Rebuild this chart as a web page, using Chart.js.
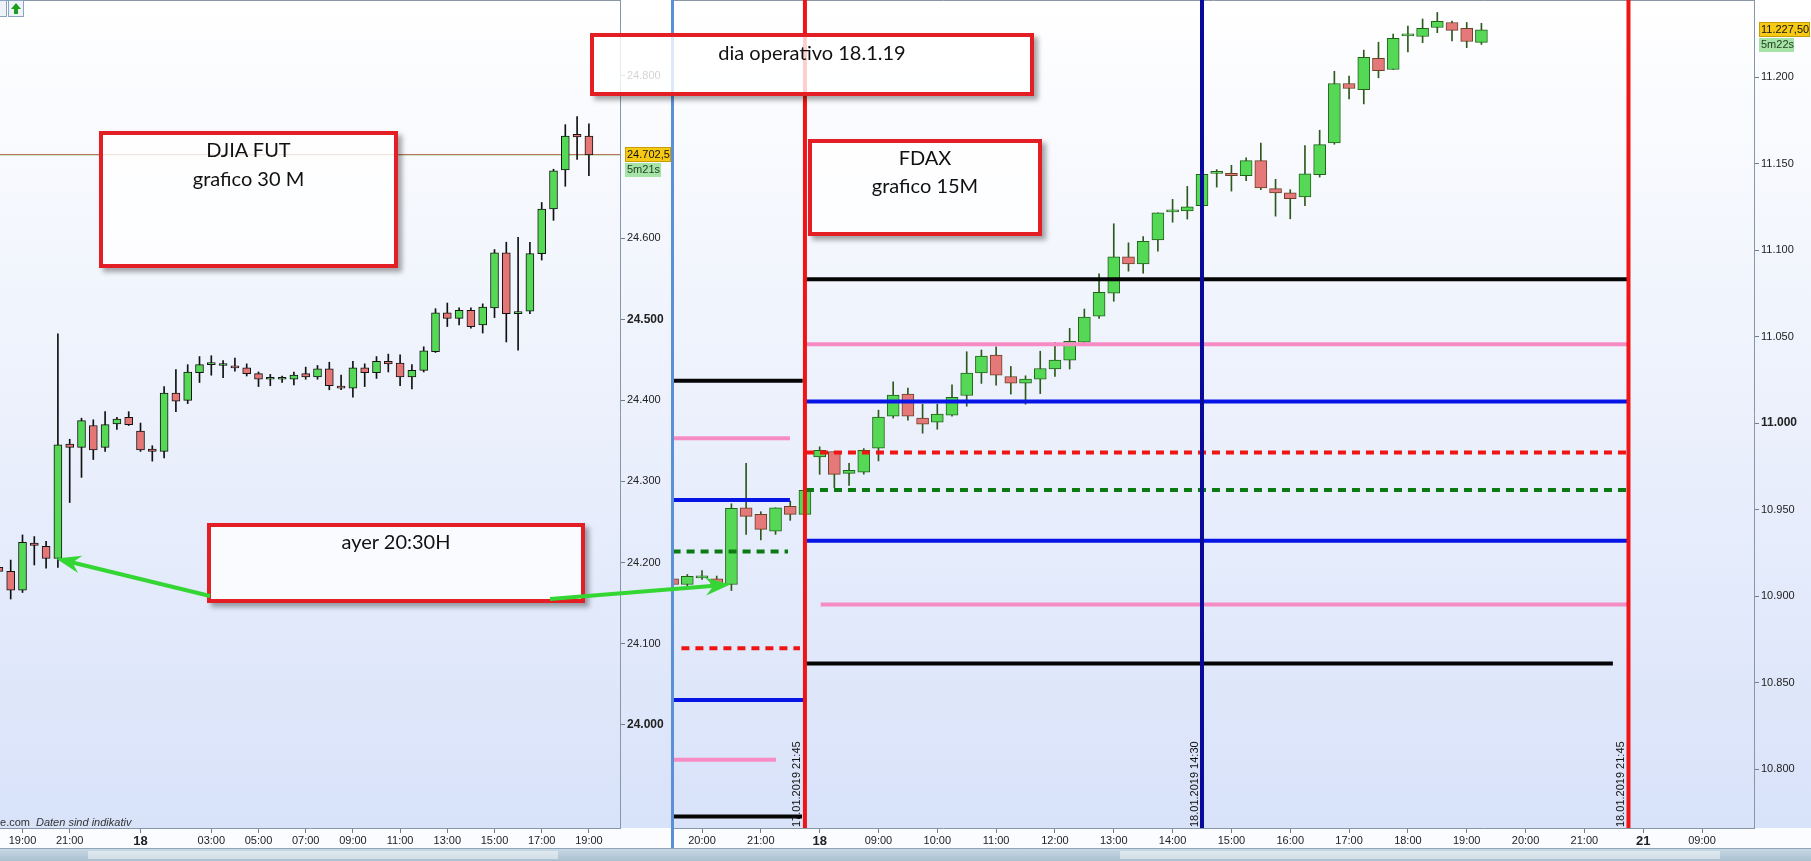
<!DOCTYPE html>
<html>
<head>
<meta charset="utf-8">
<script src="https://cdn.jsdelivr.net/npm/chart.js@4.4.1/dist/chart.umd.min.js"></script>
<style>
html, body { margin: 0; padding: 0; background: #fff; overflow: hidden; }
#wrap { position: relative; width: 1811px; height: 861px; }
#djChart { position: absolute; left: 0; top: 0; }
#fdChart { position: absolute; left: 673px; top: 0; }
.sep { position: absolute; left: 671px; top: 0; width: 3px; height: 861px; background: #5b8fd8; }
.toolbar { position: absolute; left: 0; top: 848px; width: 1811px; height: 13px; box-sizing: border-box;
  background: linear-gradient(#c8d8e4, #a9c1d1); border-top: 1px solid #8ea6b8; }
.note { position: absolute; box-sizing: border-box; border: 4px solid #e31e24; background: rgba(255,255,255,0.8);
  box-shadow: 4px 4px 5px rgba(0,0,0,0.35); font-family: Lato, 'Open Sans', sans-serif; font-size: 20px;
  line-height: 29px; color: #111; text-align: center; }
#overlay { position: absolute; left: 0; top: 0; pointer-events: none; }
</style>
</head>
<body>
<div id="wrap">
  <canvas id="djChart" width="672" height="848"></canvas>
  <canvas id="fdChart" width="1138" height="848"></canvas>
  <div class="sep"></div>
  <div class="toolbar"></div>
  <div class="note" style="left:99px;top:131px;width:299px;height:137px">DJIA FUT<br>grafico 30 M</div>
  <div class="note" style="left:590px;top:33px;width:444px;height:63px;padding-top:1px">dia operativo 18.1.19</div>
  <div class="note" style="left:808px;top:139px;width:234px;height:97px;line-height:28px">FDAX<br>grafico 15M</div>
  <div class="note" style="left:207px;top:523px;width:378px;height:80px">ayer 20:30H</div>
  <canvas id="overlay" width="1811" height="861"></canvas>
</div>
<script>
const FONT = "'Liberation Sans', Arial, sans-serif";

// DJIA futures, 30 min candles, 17.01 18:00 -> 18.01 19:00
const djOpen  = [24194, 24189, 24166, 24224, 24220, 24205, 24346, 24342, 24369, 24342, 24371, 24379, 24362, 24340, 24337, 24409, 24400, 24434, 24444, 24443, 24442, 24440, 24433, 24426, 24426, 24426, 24433, 24429, 24439, 24417, 24415, 24440, 24434, 24448, 24446, 24429, 24437, 24460, 24508, 24501, 24511, 24493, 24514, 24582, 24507, 24510, 24581, 24636, 24684, 24728, 24726];
const djHigh  = [24199, 24203, 24234, 24232, 24226, 24482, 24352, 24378, 24376, 24386, 24379, 24386, 24372, 24344, 24417, 24438, 24444, 24454, 24455, 24449, 24452, 24445, 24435, 24432, 24430, 24435, 24441, 24443, 24447, 24431, 24448, 24445, 24454, 24457, 24456, 24444, 24466, 24513, 24520, 24514, 24514, 24519, 24586, 24595, 24601, 24595, 24644, 24685, 24740, 24750, 24741];
const djLow   = [24186, 24155, 24163, 24197, 24193, 24194, 24274, 24305, 24327, 24337, 24364, 24369, 24337, 24325, 24329, 24386, 24396, 24422, 24431, 24428, 24436, 24430, 24417, 24418, 24422, 24419, 24426, 24426, 24413, 24413, 24404, 24417, 24427, 24435, 24418, 24414, 24435, 24459, 24491, 24493, 24489, 24483, 24502, 24472, 24462, 24507, 24573, 24622, 24664, 24697, 24677];
const djClose = [24189, 24166, 24225, 24221, 24205, 24345, 24342, 24375, 24339, 24370, 24377, 24370, 24339, 24337, 24409, 24399, 24435, 24444, 24444, 24443, 24440, 24433, 24426, 24426, 24426, 24431, 24429, 24439, 24418, 24415, 24440, 24434, 24448, 24445, 24429, 24437, 24461, 24508, 24501, 24511, 24491, 24515, 24582, 24507, 24509, 24581, 24636, 24683, 24726, 24725, 24702.5];
const djTickPos    = [2, 6, 12, 18, 22, 26, 30, 34, 38, 42, 46, 50];
const djTickLabels = ['19:00', '21:00', '18', '03:00', '05:00', '07:00', '09:00', '11:00', '13:00', '15:00', '17:00', '19:00'];
const djPriceTicks = [24000, 24100, 24200, 24300, 24400, 24500, 24600, 24800];
const djBoldTicks  = [24000, 24500];

// FDAX, 15 min candles, 17.01 19:30 -> 21:45, then 18.01 08:00 -> 19:15
const fdOpen  = [10910, 10906.7, 10910.5, 10910, 10906.7, 10951.1, 10947.3, 10937.6, 10951.9, 10947.3, 10980.5, 10983.6, 10971, 10971.6, 10985.5, 11004, 11016.8, 11002.9, 11000.6, 11004.6, 11016, 11029, 11039.4, 11027, 11023.2, 11025.5, 11031.3, 11036.5, 11046.8, 11061.8, 11075.1, 11096.2, 11092.1, 11106, 11122.2, 11122.8, 11125.7, 11144.4, 11144.4, 11143.1, 11151.8, 11135.6, 11133.2, 11130.9, 11143.7, 11162, 11196.4, 11192.9, 11210.9, 11204.5, 11224, 11223.6, 11228.8, 11231.7, 11228.3, 11220.2];
const fdHigh  = [10911.5, 10912.5, 10914.8, 10911.6, 10953.4, 10976.8, 10948.8, 10951.1, 10955, 10962.7, 10986.3, 10983.6, 10976.8, 10985.3, 11007.5, 11023.9, 11020.3, 11011, 11011, 11022.2, 11041.3, 11042.3, 11044.2, 11032.8, 11027.4, 11041.6, 11046.8, 11054.8, 11066, 11086.3, 11115.3, 11104.3, 11107.9, 11121.6, 11129.4, 11136.9, 11144.5, 11146.6, 11149.1, 11153.5, 11162, 11141, 11135, 11160.5, 11169.4, 11203.5, 11200.7, 11215.7, 11220.3, 11225, 11229.6, 11233.7, 11237.5, 11232.5, 11231.7, 11231.2];
const fdLow   = [10905.5, 10906, 10909.6, 10905.5, 10903.2, 10935.7, 10932.5, 10935.7, 10943.8, 10947.3, 10970.4, 10962.7, 10964, 10970.5, 10978.2, 11002.9, 11001.7, 10994.2, 10996.5, 11004, 11009.8, 11023, 11022, 11016.8, 11011, 11017.1, 11027, 11031.3, 11046, 11060.6, 11070.5, 11087.9, 11086.7, 11099.4, 11116.2, 11118, 11125, 11136.5, 11134.2, 11140.2, 11135, 11119.7, 11118.2, 11125.7, 11142.3, 11161.3, 11187.5, 11184.6, 11199.7, 11204.5, 11214.7, 11220, 11225.8, 11221.1, 11217.1, 11219];
const fdClose = [10906.7, 10911.4, 10910.5, 10906.3, 10950.8, 10946.1, 10938.6, 10951.1, 10947.3, 10961.2, 10984.3, 10970.4, 10972.7, 10984.3, 11003.5, 11016.2, 11004, 10999.4, 11005.2, 11014.9, 11028.9, 11038.8, 11027.8, 11023.2, 11025.5, 11031.6, 11036.5, 11047.3, 11061.4, 11075.7, 11096.2, 11092.1, 11105.2, 11121.6, 11122.2, 11125.1, 11143.9, 11144.4, 11143.1, 11151.8, 11136.1, 11133.2, 11129.8, 11144.2, 11161.1, 11196.4, 11193.5, 11211.5, 11203.9, 11222.5, 11224, 11228.3, 11232.3, 11227.1, 11220.7, 11227.5];
const fdTickPos    = [2, 6, 10, 14, 18, 22, 26, 30, 34, 38, 42, 46, 50, 54, 58, 62, 66, 70];
const fdTickLabels = ['20:00', '21:00', '18', '09:00', '10:00', '11:00', '12:00', '13:00', '14:00', '15:00', '16:00', '17:00', '18:00', '19:00', '20:00', '21:00', '21', '09:00'];
const fdPriceTicks = [10800, 10850, 10900, 10950, 11000, 11050, 11100, 11150, 11200];
const fdBoldTicks  = [11000];

// pivot levels drawn on the FDAX chart, per session (value, from slot, to slot)
const lvl17     = [11024.5, 10991.3, 10955.6, 10925.8, 10869.8, 10839.9, 10805.3, 10772.5];
const lvl17From = [0, 0, 0, 0, 0.6, 0, 0, 0];
const lvl17To   = [8.85, 7.98, 7.98, 7.85, 8.66, 8.94, 7.03, 8.8];
const lvl18     = [11083.2, 11045.7, 11012.6, 10983.0, 10961.4, 10932.0, 10895.1, 10861.0];
const lvl18From = [9.07, 9.07, 9.07, 9.07, 9.07, 9.07, 10.07, 9.07];
const lvl18To   = [64.97, 64.97, 64.97, 64.97, 64.97, 64.97, 64.97, 63.94];
const lvl17Kind = ['black', 'pink', 'blue', 'green', 'red', 'blue', 'pink', 'black'];
const lvl18Kind = ['black', 'pink', 'blue', 'red', 'green', 'blue', 'pink', 'black'];

const vLinePos    = [9, 36, 65];
const vLineLabels = ['17.01.2019 21:45', '18.01.2019 14:30', '18.01.2019 21:45'];
const vLineKind   = ['red', 'navy', 'red'];

const STYLE = {
  black: { color: '#050505', dash: [] },
  pink:  { color: '#f78cc4', dash: [] },
  blue:  { color: '#0614e6', dash: [] },
  red:   { color: '#f01414', dash: [8, 6] },
  green: { color: '#0b7a12', dash: [8, 6] },
  navy:  { color: '#0a0a9a', dash: [] }
};

const fmtInt = v => String(Math.round(v)).replace(/\B(?=(\d{3})+(?!\d))/g, '.');

function candleSets(o, h, l, c, st) {
  const up = c.map((v, i) => v >= o[i]);
  return [
    { type: 'bar', order: 2, grouped: false, barThickness: 1, borderWidth: 0,
      backgroundColor: st.wick,
      data: h.map((v, i) => ({ x: i, y: [l[i], v] })) },
    { type: 'bar', order: 1, grouped: false, barThickness: st.body, minBarLength: 2,
      borderWidth: 1, borderSkipped: false,
      backgroundColor: up.map(u => u ? st.up : st.down),
      borderColor: up.map(u => u ? st.upLine : st.downLine),
      data: o.map((v, i) => ({ x: i, y: [Math.min(v, c[i]), Math.max(v, c[i])] })) }
  ];
}

function levelSets(vals, from, to, kinds) {
  return vals.map((v, i) => ({
    type: 'line', order: 0, borderWidth: 4, pointRadius: 0,
    borderColor: STYLE[kinds[i]].color, borderDash: STYLE[kinds[i]].dash, borderCapStyle: 'butt',
    data: [{ x: from[i], y: v }, { x: to[i], y: v }]
  }));
}

function priceAxis(min, max, ticks, bold, width) {
  return {
    type: 'linear', position: 'right', min, max, beginAtZero: false,
    afterBuildTicks: s => { s.ticks = ticks.map(v => ({ value: v })); },
    afterFit: s => { s.width = width; s.paddingTop = 0; s.paddingBottom = 0; },
    grid: { drawOnChartArea: false, tickLength: 5, tickColor: '#6f7f8f' },
    border: { color: '#8797a7' },
    ticks: {
      autoSkip: false, padding: 2, color: '#222',
      callback: v => fmtInt(v),
      font: c => bold.includes(c.tick && c.tick.value)
        ? { family: FONT, size: 12, weight: 'bold' } : { family: FONT, size: 11 }
    }
  };
}

function timeAxis(min, max, pos, labels) {
  return {
    type: 'linear', position: 'bottom', min, max, offset: false,
    afterBuildTicks: s => { s.ticks = pos.map(v => ({ value: v })); },
    afterFit: s => { s.height = 20; s.paddingLeft = 0; s.paddingRight = 0; },
    grid: { drawOnChartArea: false, tickLength: 5, tickColor: '#6f7f8f', offset: false },
    border: { color: '#8797a7' },
    ticks: {
      autoSkip: false, maxRotation: 0, padding: 1, color: '#222',
      callback: v => labels[pos.indexOf(v)],
      font: c => {
        const lab = labels[pos.indexOf(c.tick && c.tick.value)] || '';
        return lab.length === 2 ? { family: FONT, size: 13, weight: 'bold' } : { family: FONT, size: 11 };
      }
    }
  };
}

const bgPlugin = {
  id: 'bg',
  beforeDraw(chart) {
    const { ctx, width, height, chartArea } = chart;
    const g = ctx.createLinearGradient(0, 0, 0, chartArea.bottom);
    g.addColorStop(0, '#ffffff');
    g.addColorStop(1, '#d8e2f9');
    ctx.save();
    ctx.fillStyle = g;
    ctx.fillRect(0, 0, width, chartArea.bottom);
    ctx.fillStyle = '#fafcff';
    ctx.fillRect(0, chartArea.bottom, width, height - chartArea.bottom);
    ctx.strokeStyle = '#8a98a6';
    ctx.lineWidth = 1;
    ctx.beginPath(); ctx.moveTo(0, 0.5); ctx.lineTo(chartArea.right, 0.5); ctx.stroke();
    ctx.restore();
  }
};

function drawTag(chart, value, text, sub, w1, w2) {
  const { ctx, chartArea } = chart;
  const y = Math.round(chart.scales.y.getPixelForValue(value));
  const x = chartArea.right + 5;
  ctx.save();
  ctx.fillStyle = '#f6c915';
  ctx.fillRect(x, y - 8, w1, 15);
  ctx.strokeStyle = '#c99d05';
  ctx.strokeRect(x + 0.5, y - 7.5, w1 - 1, 14);
  ctx.font = `11px ${FONT}`;
  ctx.textAlign = 'left';
  ctx.textBaseline = 'middle';
  ctx.fillStyle = '#111';
  ctx.fillText(text, x + 2, y);
  ctx.fillStyle = '#a6e3a6';
  ctx.fillRect(x, y + 8, w2, 14);
  ctx.fillStyle = '#1d3b1d';
  ctx.fillText(sub, x + 2, y + 15);
  ctx.restore();
}

const djExtras = {
  id: 'djExtras',
  beforeDatasetsDraw(chart) {
    const { ctx, chartArea } = chart;
    const y = Math.round(chart.scales.y.getPixelForValue(djClose[djClose.length - 1]));
    ctx.save();
    ctx.fillStyle = '#c4705e';
    ctx.fillRect(chartArea.left, y - 1, chartArea.right - chartArea.left, 1);
    ctx.fillStyle = '#c6e6c6';
    ctx.fillRect(chartArea.left, y, chartArea.right - chartArea.left, 1);
    ctx.restore();
  },
  afterDraw(chart) {
    const { ctx, chartArea } = chart;
    drawTag(chart, djClose[djClose.length - 1], '24.702,5', '5m21s', 46, 36);
    ctx.save();
    ctx.fillStyle = '#333';
    ctx.textBaseline = 'alphabetic';
    ctx.font = `11px ${FONT}`;
    ctx.textAlign = 'right';
    ctx.fillText('ce.com', 30, chartArea.bottom - 2);
    ctx.textAlign = 'left';
    ctx.font = `italic 11px ${FONT}`;
    ctx.fillText('Daten sind indikativ', 36, chartArea.bottom - 2);
    ctx.restore();
  }
};

const fdExtras = {
  id: 'fdExtras',
  afterDatasetsDraw(chart) {
    const { ctx, chartArea } = chart;
    const xs = chart.scales.x;
    ctx.save();
    vLinePos.forEach((p, i) => {
      const x = xs.getPixelForValue(p);
      ctx.strokeStyle = STYLE[vLineKind[i]].color;
      ctx.lineWidth = 4;
      ctx.beginPath(); ctx.moveTo(x, chartArea.top); ctx.lineTo(x, chartArea.bottom); ctx.stroke();
      ctx.save();
      ctx.translate(x - 2, chartArea.bottom);
      ctx.rotate(-Math.PI / 2);
      ctx.font = `11px ${FONT}`;
      ctx.fillStyle = '#111';
      ctx.textAlign = 'left';
      ctx.textBaseline = 'bottom';
      ctx.fillText(vLineLabels[i], 1, 0);
      ctx.restore();
    });
    ctx.restore();
  },
  afterDraw(chart) {
    drawTag(chart, fdClose[fdClose.length - 1], '11.227,50', '5m22s', 51, 35);
  }
};

const common = {
  responsive: false, animation: false, devicePixelRatio: 1,
  layout: { padding: 0 },
  plugins: { legend: { display: false }, tooltip: { enabled: false } },
  events: []
};

const djChart = new Chart(document.getElementById('djChart'), {
  type: 'bar',
  data: { datasets: candleSets(djOpen, djHigh, djLow, djClose,
    { wick: '#111', body: 8, up: '#55d855', down: '#e57676', upLine: '#141414', downLine: '#141414' }) },
  options: Object.assign({}, common, {
    scales: {
      x: timeAxis(0.093, 52.635, djTickPos, djTickLabels),
      y: priceAxis(23872.6, 24893.7, djPriceTicks, djBoldTicks, 52)
    }
  }),
  plugins: [bgPlugin, djExtras]
});

const fdChart = new Chart(document.getElementById('fdChart'), {
  type: 'bar',
  data: { datasets: candleSets(fdOpen, fdHigh, fdLow, fdClose,
      { wick: '#2c5a1c', body: 12, up: '#55d855', down: '#e57878', upLine: '#22621a', downLine: '#6a4024' })
    .concat(levelSets(lvl17, lvl17From, lvl17To, lvl17Kind))
    .concat(levelSets(lvl18, lvl18From, lvl18To, lvl18Kind)) },
  options: Object.assign({}, common, {
    scales: {
      x: timeAxis(0.028, 73.535, fdTickPos, fdTickLabels),
      y: priceAxis(10765.9, 11244.7, fdPriceTicks, fdBoldTicks, 57)
    }
  }),
  plugins: [bgPlugin, fdExtras]
});

// overlay: green arrows pointing at the 20:30 candles, small toolbar bits
const ov = document.getElementById('overlay').getContext('2d');

function arrow(ctx, x1, y1, x2, y2) {
  const a = Math.atan2(y2 - y1, x2 - x1), ca = Math.cos(a), sa = Math.sin(a);
  const L = 22, W = 9;
  const bx = x2 - L * ca, by = y2 - L * sa;
  ctx.strokeStyle = '#34d634';
  ctx.fillStyle = '#34d634';
  ctx.lineWidth = 4;
  ctx.beginPath(); ctx.moveTo(x1, y1); ctx.lineTo(bx + 6 * ca, by + 6 * sa); ctx.stroke();
  ctx.beginPath();
  ctx.moveTo(x2, y2);
  ctx.lineTo(bx - 3 * ca + W * sa, by - 3 * sa - W * ca);
  ctx.lineTo(bx + 5 * ca, by + 5 * sa);
  ctx.lineTo(bx - 3 * ca - W * sa, by - 3 * sa + W * ca);
  ctx.closePath();
  ctx.fill();
}

const tip1x = djChart.scales.x.getPixelForValue(5) - 2;
const tip1y = djChart.scales.y.getPixelForValue(djOpen[5]);
const tip2x = 673 + fdChart.scales.x.getPixelForValue(4) - 1;
const tip2y = fdChart.scales.y.getPixelForValue(fdOpen[4]);
arrow(ov, 210, 596, tip1x, tip1y);
arrow(ov, 550, 599, tip2x, tip2y);

// top-left toolbar buttons
ov.fillStyle = '#eef3f9'; ov.strokeStyle = '#8aa3bf'; ov.lineWidth = 1;
ov.fillRect(0, 0, 7, 17); ov.strokeRect(-0.5, 0.5, 7, 16);
ov.fillRect(8, 0, 16, 17); ov.strokeRect(8.5, 0.5, 15, 16);
ov.fillStyle = '#1e9e1e';
ov.beginPath(); ov.moveTo(16, 3); ov.lineTo(21, 9); ov.lineTo(11, 9); ov.closePath(); ov.fill();
ov.fillRect(14, 9, 4, 5);
// scrollbar track in the bottom strip
ov.fillStyle = 'rgba(255,255,255,0.45)';
ov.fillRect(88, 851, 470, 8);
ov.fillRect(1120, 851, 600, 8);
</script>
</body>
</html>
